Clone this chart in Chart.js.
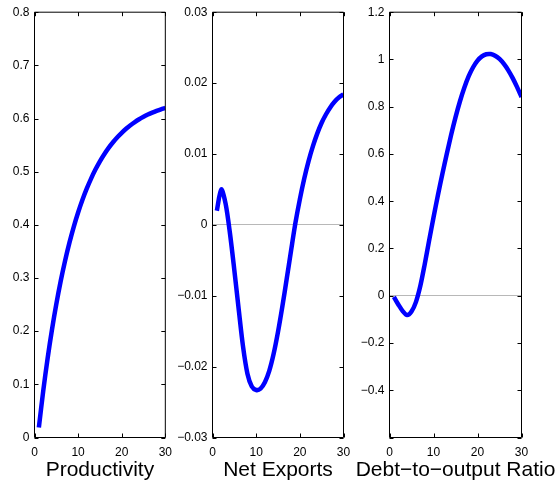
<!DOCTYPE html>
<html><head><meta charset="utf-8">
<script src="https://cdn.jsdelivr.net/npm/chart.js@4"></script>
<style>
html,body{margin:0;padding:0;background:#fff;}
#wrap{position:relative;width:558px;height:483px;overflow:hidden;background:#fff;}
canvas{position:absolute;top:0;}
</style></head><body>
<div id="wrap">
<canvas id="c1" width="180" height="483" style="left:0px"></canvas>
<canvas id="c2" width="190" height="483" style="left:170px"></canvas>
<canvas id="c3" width="211" height="483" style="left:347px"></canvas>
</div>
<script>
const steps = [1,2,3,4,5,6,7,8,9,10,11,12,13,14,15,16,17,18,19,20,21,22,23,24,25,26,27,28,29,30];
const productivity = [0.0190,0.0874,0.1484,0.2026,0.2508,0.2938,0.3320,0.3660,0.3963,0.4232,0.4472,0.4685,0.4875,0.5044,0.5195,0.5329,0.5448,0.5554,0.5648,0.5732,0.5807,0.5874,0.5933,0.5986,0.6032,0.6074,0.6111,0.6144,0.6174,0.6200];
const netExports = [0.0020,0.0050,0.0030,-0.0012,-0.0064,-0.0119,-0.0172,-0.0210,-0.0228,-0.0233,-0.0231,-0.0222,-0.0206,-0.0182,-0.0151,-0.0115,-0.0076,-0.0036,0.0003,0.0036,0.0065,0.0090,0.0111,0.0129,0.0144,0.0156,0.0166,0.0174,0.0180,0.0184];
const debtRatio = [-0.005,-0.037,-0.065,-0.082,-0.067,-0.027,0.041,0.133,0.233,0.331,0.425,0.514,0.599,0.680,0.755,0.822,0.880,0.929,0.967,0.995,1.013,1.022,1.023,1.016,1.002,0.981,0.954,0.921,0.883,0.841];
const panelTitles = ['Productivity','Net Exports','Debt\u2212to\u2212output Ratio'];
const yMins = [0, -0.03, -0.6];
const yMaxs = [0.8, 0.03, 1.2];
const ySteps = [0.1, 0.01, 0.2];
const hiddenYLabels = [[], [], [-0.6]];
const xTickStep = 10;

const FONT = '"Liberation Sans", Arial, Helvetica, sans-serif';

const framePlugin = {
  id: 'frame',
  afterDatasetsDraw(chart) {
    const {ctx, chartArea: a, scales: {x, y}} = chart;
    ctx.save();
    ctx.strokeStyle = '#000';
    ctx.lineWidth = 1;
    ctx.beginPath();
    ctx.rect(a.left, a.top, a.right - a.left, a.bottom - a.top);
    ctx.stroke();
    const L = 4;
    ctx.beginPath();
    x.ticks.forEach(t => {
      const px = Math.round(x.getPixelForValue(t.value)) + 0.5;
      ctx.moveTo(px, a.bottom); ctx.lineTo(px, a.bottom - L);
      ctx.moveTo(px, a.top); ctx.lineTo(px, a.top + L);
    });
    y.ticks.forEach(t => {
      const py = Math.round(y.getPixelForValue(t.value)) + 0.5;
      ctx.moveTo(a.left, py); ctx.lineTo(a.left + L, py);
      ctx.moveTo(a.right, py); ctx.lineTo(a.right - L, py);
    });
    ctx.stroke();
    // x-axis caption, centred under the plot box (may extend past it)
    const txt = chart.options.plugins.frame.caption;
    ctx.fillStyle = '#000';
    ctx.font = '21px ' + FONT;
    ctx.textAlign = 'center';
    ctx.textBaseline = 'alphabetic';
    ctx.fillText(txt, (a.left + a.right) / 2, 476);
    ctx.restore();
  }
};

function fmt(v) {
  const r = Number(v.toFixed(4));
  return String(r).replace('-', '\u2212');
}

function makeChart(id, values, i, yWidth, padRight) {
  const pts = steps.map((s, k) => ({x: s, y: values[k]}));
  new Chart(document.getElementById(id), {
    type: 'line',
    data: { datasets: [{
      data: pts,
      borderColor: '#0000ff',
      borderWidth: 4.5,
      pointRadius: 0,
      tension: 0.3,
      fill: false
    }]},
    options: {
      responsive: false,
      animation: false,
      devicePixelRatio: 1,
      layout: { padding: { left: 0, right: padRight, top: 10.5, bottom: 0 } },
      plugins: { legend: { display: false }, tooltip: { enabled: false }, frame: { caption: panelTitles[i] } },
      scales: {
        x: {
          type: 'linear', min: 0, max: 30,
          ticks: { stepSize: xTickStep, color: '#000', padding: 8, font: { family: FONT, size: 12 }, maxRotation: 0 },
          grid: { display: false, drawTicks: false },
          border: { display: false },
          afterFit(s) { s.height = 45.5; }
        },
        y: {
          type: 'linear', min: yMins[i], max: yMaxs[i],
          ticks: {
            stepSize: ySteps[i], color: '#000', padding: 5, font: { family: FONT, size: 12 },
            callback: (v) => hiddenYLabels[i].some(h => Math.abs(h - v) < 1e-9) ? '' : fmt(v)
          },
          grid: {
            drawTicks: false,
            lineWidth: 1,
            color: (c) => (c.tick && Math.abs(c.tick.value) < 1e-12 && i > 0) ? '#b8b8b8' : 'rgba(0,0,0,0)'
          },
          border: { display: false },
          afterFit(s) { s.width = yWidth; }
        }
      }
    },
    plugins: [framePlugin]
  });
}

makeChart('c1', productivity, 0, 34.5, 13.5);
makeChart('c2', netExports, 1, 42.5, 16.5);
makeChart('c3', debtRatio, 2, 42.5, 36.5);
</script>
</body></html>
